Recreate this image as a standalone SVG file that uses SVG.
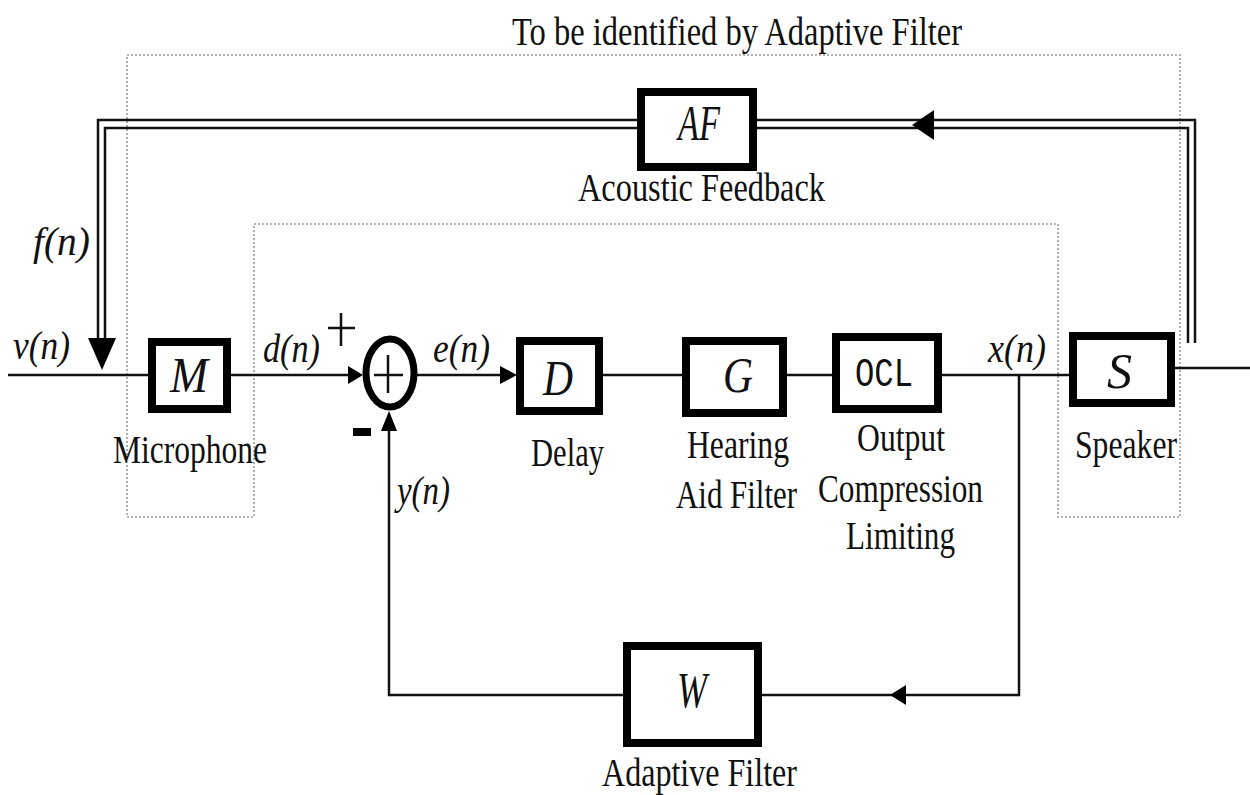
<svg xmlns="http://www.w3.org/2000/svg" width="1250" height="795" viewBox="0 0 1250 795">
<defs>
<style>
.lbl{font-family:"Liberation Serif","Times New Roman",serif;font-size:40px;fill:#111}
.sig{font-family:"Liberation Serif","Times New Roman",serif;font-style:italic;font-size:40px;fill:#111}
.sym{font-family:"Liberation Serif","Times New Roman",serif;font-style:italic;font-size:50px;fill:#111}
.mono{font-family:"Liberation Mono","Courier New",monospace;font-size:40px;fill:#111}
.box{fill:#fff;stroke:#000;stroke-width:8}
.ln{fill:none;stroke:#111;stroke-width:2.5}
.dot{fill:none;stroke:#9a9a9a;stroke-width:1.6;stroke-dasharray:2 2}
.ah{fill:#000}
</style>
</defs>
<rect width="1250" height="795" fill="#fff"/>

<g id="region">
<polygon class="dot" points="127,55 1180,55 1180,517 1058,517 1058,224 254,224 254,517 127,517"/>
<text class="lbl" x="512" y="45" font-size="42" textLength="450" lengthAdjust="spacingAndGlyphs">To be identified by Adaptive Filter</text>
</g>

<g id="connectors">
<polyline class="ln" points="98,338 98,120 1195,120 1195,343"/>
<polyline class="ln" points="105,338 105,128 1188,128 1188,343"/>
<polygon class="ah" points="912,125 934,110 934,140"/>
<polygon class="ah" points="88,338 116,338 102,370"/>
<line class="ln" x1="8" y1="375" x2="150" y2="375"/>
<line class="ln" x1="230" y1="375" x2="350" y2="375"/>
<polygon class="ah" points="363,375 348,366 348,384"/>
<line class="ln" x1="416" y1="375" x2="505" y2="375"/>
<polygon class="ah" points="517,375 500,366 500,384"/>
<line class="ln" x1="602" y1="375" x2="684" y2="375"/>
<line class="ln" x1="786" y1="375" x2="834" y2="375"/>
<line class="ln" x1="940" y1="375" x2="1071" y2="375"/>
<line class="ln" x1="1174" y1="368" x2="1250" y2="368"/>
<polyline class="ln" points="1019,375 1019,695 625,695"/>
<polygon class="ah" points="890,695 906,685 906,705"/>
<polyline class="ln" points="625,695 389,695 389,425"/>
<polygon class="ah" points="389,411 381,431 397,431"/>
</g>

<g id="node-AF">
<rect class="box" x="641" y="92" width="112" height="75"/>
<text class="sym" x="678" y="140" font-size="44" textLength="42" lengthAdjust="spacingAndGlyphs">AF</text>
<text class="lbl" x="578" y="201" textLength="247" lengthAdjust="spacingAndGlyphs">Acoustic Feedback</text>
</g>

<g id="node-M">
<rect class="box" x="152" y="342" width="75" height="67"/>
<text class="sym" x="170" y="392" textLength="38" lengthAdjust="spacingAndGlyphs">M</text>
<text class="lbl" x="113" y="463" textLength="154" lengthAdjust="spacingAndGlyphs">Microphone</text>
</g>

<g id="node-sum">
<ellipse cx="390" cy="373" rx="24" ry="34" fill="#fff" stroke="#000" stroke-width="7"/>
<line class="ln" x1="374" y1="375" x2="403" y2="375" stroke-width="2"/>
<line class="ln" x1="388" y1="355" x2="388" y2="393" stroke-width="2"/>
<line class="ln" x1="328" y1="328" x2="355" y2="328" stroke-width="2.5"/>
<line class="ln" x1="341" y1="313" x2="341" y2="346" stroke-width="2.5"/>
<rect x="353" y="428" width="18" height="8" fill="#000"/>
</g>

<g id="node-D">
<rect class="box" x="520" y="341" width="79" height="70"/>
<text class="sym" x="543" y="395" textLength="30" lengthAdjust="spacingAndGlyphs">D</text>
<text class="lbl" x="531" y="466" textLength="73" lengthAdjust="spacingAndGlyphs">Delay</text>
</g>

<g id="node-G">
<rect class="box" x="686" y="341" width="97" height="72"/>
<text class="sym" x="723" y="392" textLength="30" lengthAdjust="spacingAndGlyphs">G</text>
<text class="lbl" x="687" y="458" textLength="102" lengthAdjust="spacingAndGlyphs">Hearing</text>
<text class="lbl" x="676" y="508" textLength="121" lengthAdjust="spacingAndGlyphs">Aid Filter</text>
</g>

<g id="node-OCL">
<rect class="box" x="836" y="337" width="102" height="72"/>
<text class="mono" x="855" y="386" textLength="58" lengthAdjust="spacingAndGlyphs">OCL</text>
<text class="lbl" x="857" y="451" textLength="88" lengthAdjust="spacingAndGlyphs">Output</text>
<text class="lbl" x="818" y="502" textLength="165" lengthAdjust="spacingAndGlyphs">Compression</text>
<text class="lbl" x="846" y="549" textLength="109" lengthAdjust="spacingAndGlyphs">Limiting</text>
</g>

<g id="node-S">
<rect class="box" x="1073" y="336" width="98" height="67"/>
<text class="sym" x="1107" y="388" textLength="25" lengthAdjust="spacingAndGlyphs">S</text>
<text class="lbl" x="1075" y="458" textLength="102" lengthAdjust="spacingAndGlyphs">Speaker</text>
</g>

<g id="node-W">
<rect class="box" x="627" y="646" width="131" height="97"/>
<text class="sym" x="677" y="707" textLength="30" lengthAdjust="spacingAndGlyphs">W</text>
<text class="lbl" x="602" y="786" textLength="195" lengthAdjust="spacingAndGlyphs">Adaptive Filter</text>
</g>

<g id="signals">
<text class="sig" x="33" y="255" textLength="57" lengthAdjust="spacingAndGlyphs">f(n)</text>
<text class="sig" x="13" y="359" textLength="57" lengthAdjust="spacingAndGlyphs">v(n)</text>
<text class="sig" x="263" y="362" textLength="57" lengthAdjust="spacingAndGlyphs">d(n)</text>
<text class="sig" x="433" y="362" textLength="57" lengthAdjust="spacingAndGlyphs">e(n)</text>
<text class="sig" x="988" y="362" textLength="58" lengthAdjust="spacingAndGlyphs">x(n)</text>
<text class="sig" x="397" y="504" textLength="53" lengthAdjust="spacingAndGlyphs">y(n)</text>
</g>
</svg>
